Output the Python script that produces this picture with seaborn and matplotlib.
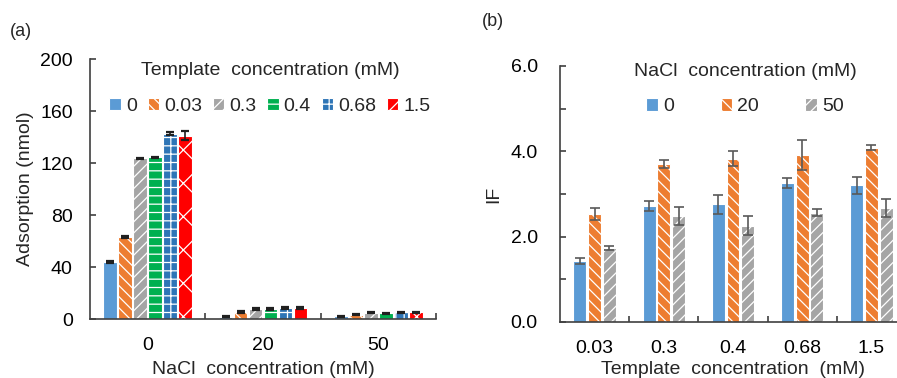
import numpy as np
import pandas as pd
import matplotlib
matplotlib.use("Agg")
import matplotlib.pyplot as plt
import seaborn as sns

# ---------------- data ----------------
nacl_levels = ["0", "20", "50"]
template_levels_a = ["0", "0.03", "0.3", "0.4", "0.68", "1.5"]
ads_nacl0 = [44.0, 63.0, 123.5, 124.5, 142.5, 141.0]
ads_nacl20 = [1.8, 5.4, 7.7, 7.7, 8.2, 8.7]
ads_nacl50 = [2.0, 3.4, 5.0, 4.4, 5.1, 5.1]
err_nacl0 = [0.6, 0.6, 0.4, 0.4, 1.2, 3.5]
err_nacl20 = [0.3, 0.5, 0.5, 0.5, 0.7, 0.7]
err_nacl50 = [0.2, 0.3, 0.5, 0.3, 0.4, 0.4]

template_levels_b = ["0.03", "0.3", "0.4", "0.68", "1.5"]
nacl_levels_b = ["0", "20", "50"]
if_nacl0 = [1.42, 2.72, 2.76, 3.26, 3.20]
if_nacl20 = [2.53, 3.70, 3.83, 3.92, 4.08]
if_nacl50 = [1.73, 2.48, 2.26, 2.56, 2.68]
iferr_nacl0 = [0.07, 0.11, 0.22, 0.11, 0.21]
iferr_nacl20 = [0.14, 0.10, 0.18, 0.35, 0.06]
iferr_nacl50 = [0.05, 0.21, 0.22, 0.08, 0.21]

colors_a = ["#5b9bd5", "#ed7d31", "#a5a5a5", "#00b050", "#2e75b6", "#ff0000"]
hatches_a = ["", "\\\\\\", "///", "--", "++", "x"]
colors_b = ["#5b9bd5", "#ed7d31", "#a5a5a5"]
hatches_b = ["", "\\\\\\", "///"]

rows = []
for n, vals, errs in zip(nacl_levels, [ads_nacl0, ads_nacl20, ads_nacl50],
                         [err_nacl0, err_nacl20, err_nacl50]):
    for t, v, e in zip(template_levels_a, vals, errs):
        rows.append({"NaCl": n, "Template": t, "Adsorption": v, "Err": e})
dfA = pd.DataFrame(rows)

rows = []
for n, vals, errs in zip(nacl_levels_b, [if_nacl0, if_nacl20, if_nacl50],
                         [iferr_nacl0, iferr_nacl20, iferr_nacl50]):
    for t, v, e in zip(template_levels_b, vals, errs):
        rows.append({"NaCl": n, "Template": t, "IF": v, "Err": e})
dfB = pd.DataFrame(rows)

# ---------------- style ----------------
sns.set_theme(style="ticks")
plt.rcParams["font.family"] = ["Liberation Sans", "DejaVu Sans"]
plt.rcParams["hatch.linewidth"] = 0.9
plt.rcParams["hatch.color"] = "white"
FS = 14
SPINE = "#404040"

fig = plt.figure(figsize=(8.97, 3.78), dpi=100)
axA = fig.add_axes([90 / 897, (378 - 319) / 378, 346 / 897, 260 / 378])
axB = fig.add_axes([560 / 897, (378 - 322) / 378, 346 / 897, 256 / 378])


def style_axis(ax):
    for s in ["top", "right"]:
        ax.spines[s].set_visible(False)
    for s in ["left", "bottom"]:
        ax.spines[s].set_color(SPINE)
        ax.spines[s].set_linewidth(1.2)


# ---------------- panel (a) ----------------
sns.barplot(data=dfA, x="NaCl", y="Adsorption", hue="Template", order=nacl_levels,
            hue_order=template_levels_a, palette=colors_a, saturation=1, width=0.78,
            gap=0.1, errorbar=None, legend=False, ax=axA)
bar_conts_a = list(axA.containers)
for i, cont in enumerate(bar_conts_a):
    t = template_levels_a[i]
    xs, ys, es = [], [], []
    for j, p in enumerate(cont):
        p.set_hatch(hatches_a[i])
        p.set_edgecolor("white")
        p.set_linewidth(0.8)
        n = nacl_levels[j]
        e = dfA.loc[(dfA.NaCl == n) & (dfA.Template == t), "Err"].iloc[0]
        xs.append(p.get_x() + p.get_width() / 2)
        ys.append(p.get_height())
        es.append(e)
    axA.errorbar(xs, ys, yerr=es, fmt="none", ecolor="#202020", elinewidth=1.2,
                 capsize=3, capthick=1.6, zorder=5)

style_axis(axA)
axA.set_xlim(-0.5, 2.5)
axA.set_ylim(0, 200)
axA.set_yticks(np.arange(0, 201, 40))
axA.set_xticks(range(len(nacl_levels)))
axA.set_xticklabels(nacl_levels)
axA.set_xticks([0.5, 1.5, 2.5], minor=True)
axA.tick_params(axis="x", which="major", length=0, pad=13, labelsize=FS, colors="black")
axA.tick_params(axis="x", which="minor", direction="in", length=4, width=1.2, color=SPINE)
axA.tick_params(axis="y", direction="in", length=4, width=1.2, color=SPINE, pad=12.5,
                labelsize=FS, labelcolor="black")
axA.set_xlabel("NaCl  concentration (mM)", fontsize=FS, labelpad=5)
axA.set_ylabel("Adsorption (nmol)", fontsize=FS, labelpad=4)
handles = [cont[0] for cont in bar_conts_a]
legA = axA.legend(handles, template_levels_a, title="Template  concentration (mM)",
                  loc="upper center", bbox_to_anchor=(0.52, 1.025), ncol=6, frameon=False,
                  fontsize=FS, title_fontsize=FS, handlelength=0.6, handleheight=0.6,
                  handletextpad=0.25, columnspacing=0.55, labelspacing=0.95, borderpad=0)

# ---------------- panel (b) ----------------
sns.barplot(data=dfB, x="Template", y="IF", hue="NaCl", order=template_levels_b,
            hue_order=nacl_levels_b, palette=colors_b, saturation=1, width=0.64,
            gap=0.12, errorbar=None, legend=False, ax=axB)
bar_conts_b = list(axB.containers)
for i, cont in enumerate(bar_conts_b):
    n = nacl_levels_b[i]
    xs, ys, es = [], [], []
    for j, p in enumerate(cont):
        p.set_hatch(hatches_b[i])
        p.set_edgecolor("white")
        p.set_linewidth(0.8)
        t = template_levels_b[j]
        e = dfB.loc[(dfB.NaCl == n) & (dfB.Template == t), "Err"].iloc[0]
        xs.append(p.get_x() + p.get_width() / 2)
        ys.append(p.get_height())
        es.append(e)
    axB.errorbar(xs, ys, yerr=es, fmt="none", ecolor="#595959", elinewidth=1.2,
                 capsize=3.5, capthick=1.2, zorder=5)

style_axis(axB)
axB.set_xlim(-0.5, 4.5)
axB.set_ylim(0, 6)
axB.set_yticks(np.arange(0, 6.1, 2))
axB.set_yticklabels([f"{v:.1f}" for v in np.arange(0, 6.1, 2)])
axB.set_yticks([1, 3, 5], minor=True)
axB.set_xticks(range(len(template_levels_b)))
axB.set_xticklabels(template_levels_b)
axB.set_xticks([0.5, 1.5, 2.5, 3.5], minor=True)
axB.tick_params(axis="x", which="major", length=0, pad=13, labelsize=FS, colors="black")
axB.tick_params(axis="x", which="minor", direction="in", length=4, width=1.2, color=SPINE)
axB.tick_params(axis="y", which="both", direction="in", length=4, width=1.2, color=SPINE,
                pad=16, labelsize=FS, labelcolor="black")
axB.set_xlabel("Template  concentration  (mM)", fontsize=FS, labelpad=3)
axB.set_ylabel("IF", fontsize=FS, labelpad=6)
handles = [cont[0] for cont in bar_conts_b]
legB = axB.legend(handles, nacl_levels_b, title="NaCl  concentration (mM)",
                  loc="upper center", bbox_to_anchor=(0.535, 1.05), ncol=3, frameon=False,
                  fontsize=FS, title_fontsize=FS, handlelength=0.6, handleheight=0.6,
                  handletextpad=0.25, columnspacing=2.4, labelspacing=0.95, borderpad=0)

fig.text(10 / 897, 1 - 31 / 378, "(a)", fontsize=13, va="center", ha="left")
fig.text(482 / 897, 1 - 22 / 378, "(b)", fontsize=13, va="center", ha="left")

fig.savefig("out.png", dpi=100)
